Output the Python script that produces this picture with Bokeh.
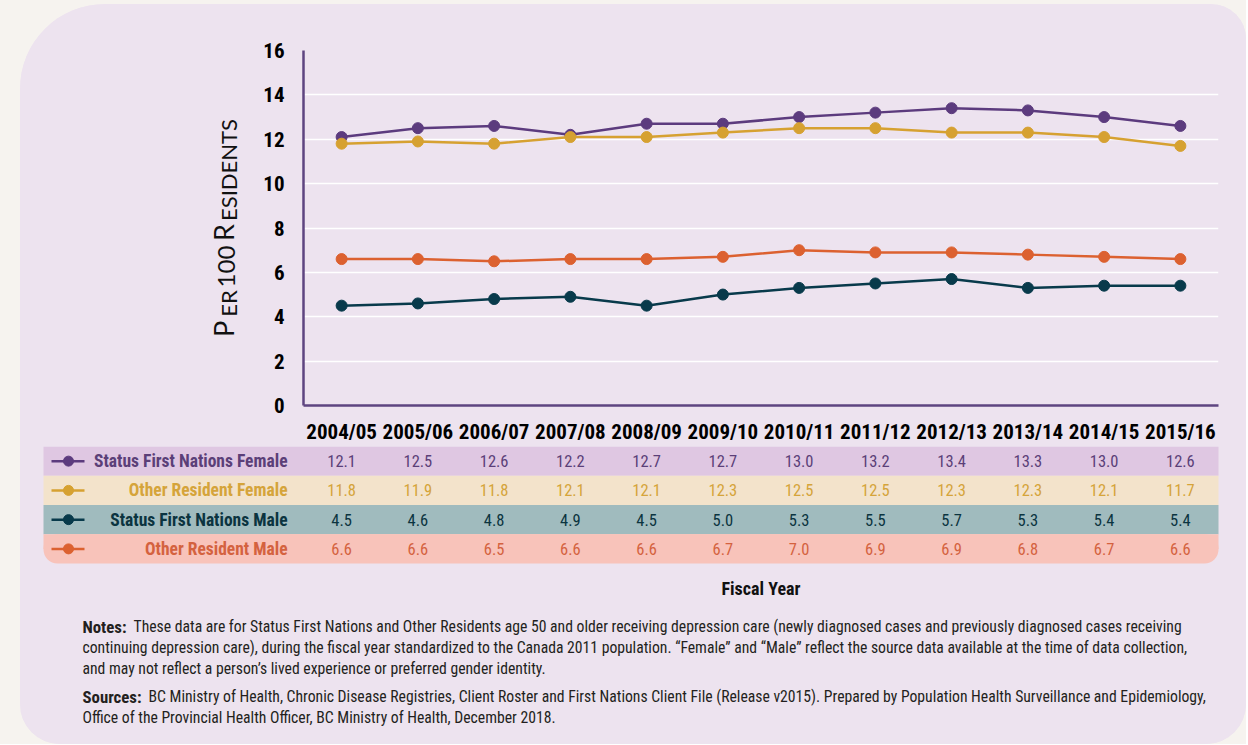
import math
from bokeh.plotting import figure
from bokeh.models import Range1d, FactorRange, FixedTicker, ColumnDataSource
from bokeh.layouts import column, row
from bokeh.embed import file_html
from bokeh.resources import INLINE
from bokeh.core.properties import value

# ---------------- data ----------------
years = ["2004/05", "2005/06", "2006/07", "2007/08", "2008/09", "2009/10",
         "2010/11", "2011/12", "2012/13", "2013/14", "2014/15", "2015/16"]
series_names = ["Status First Nations Female", "Other Resident Female",
                "Status First Nations Male", "Other Resident Male"]
sfn_female = [12.1, 12.5, 12.6, 12.2, 12.7, 12.7, 13.0, 13.2, 13.4, 13.3, 13.0, 12.6]
other_female = [11.8, 11.9, 11.8, 12.1, 12.1, 12.3, 12.5, 12.5, 12.3, 12.3, 12.1, 11.7]
sfn_male = [4.5, 4.6, 4.8, 4.9, 4.5, 5.0, 5.3, 5.5, 5.7, 5.3, 5.4, 5.4]
other_male = [6.6, 6.6, 6.5, 6.6, 6.6, 6.7, 7.0, 6.9, 6.9, 6.8, 6.7, 6.6]
y_ticks = [0, 2, 4, 6, 8, 10, 12, 14, 16]
y_title_pieces = ["P", "ER", "100", "R", "ESIDENTS"]   # "Per 100 Residents" in small caps
x_title = "Fiscal Year"
notes_label = "Notes:"
notes_lines = [
    "These data are for Status First Nations and Other Residents age 50 and older receiving depression care (newly diagnosed cases and previously diagnosed cases receiving",
    "continuing depression care), during the fiscal year standardized to the Canada 2011 population. \u201cFemale\u201d and \u201cMale\u201d reflect the source data available at the time of data collection,",
    "and may not reflect a person\u2019s lived experience or preferred gender identity.",
]
sources_label = "Sources:"
sources_lines = [
    "BC Ministry of Health, Chronic Disease Registries, Client Roster and First Nations Client File (Release v2015). Prepared by Population Health Surveillance and Epidemiology,",
    "Office of the Provincial Health Officer, BC Ministry of Health, December 2018.",
]

# ---------------- styles ----------------
OUTER = "#f6f3ef"
PANEL = "#ede3ef"
SPINE = "#5e4580"
line_colors = ["#5c3b7e", "#d6a131", "#083a4b", "#dc6130"]
text_colors = ["#5b3f78", "#d5a43a", "#0b3440", "#d4623f"]
row_colors = ["#dfc7e2", "#f3e3cb", "#a0bbbe", "#f8c3ba"]
NARROW = "Roboto Condensed, Roboto"
CAPS = "Lato"

W = 1226            # panel width (screen x 20..1246)
YW = 236            # width of the y-title strip
LEFT, RIGHT, TOP, BOTTOM = 47, 28, 46, 39
CHART_LEFT = YW + LEFT
FA_H = 442
FRAME_W = W - CHART_LEFT - RIGHT
STEP = FRAME_W / len(years)


def no_align(fig):
    if "frame_align" in fig.properties():
        fig.frame_align = False
    return fig


def plain(fig):
    fig.xgrid.grid_line_color = None
    fig.ygrid.grid_line_color = None
    return no_align(fig)


# ---------------- y-title strip ----------------
py = figure(width=YW, height=FA_H, x_range=Range1d(0, YW), y_range=Range1d(0, FA_H),
            output_backend="svg", toolbar_location=None, title=None, min_border=0,
            x_axis_location=None, y_axis_location=None,
            background_fill_color=PANEL, border_fill_color=PANEL, outline_line_color=None)
plain(py)
piece_sizes = [27, 22, 24, 27, 22]
piece_centers = [328.5, 303, 266, 232, 169.5]        # screen y of each piece centre
BASE_X = 236                                         # screen x of the common baseline
for txt, size, cy in zip(y_title_pieces, piece_sizes, piece_centers):
    shift = 0.36 * size + 0.67 * (size - 22)
    py.text(x=[BASE_X - shift - 20], y=[FA_H + 4 - cy], text=[txt],
            angle=math.pi / 2, text_align="center", text_baseline="middle",
            text_font=value(CAPS), text_font_size=f"{size}px", text_color="#111111")

# ---------------- chart ----------------
p = figure(width=W - YW, height=FA_H, x_range=FactorRange(*years), y_range=Range1d(0, 16),
           output_backend="svg", toolbar_location=None, title=None,
           min_border_left=LEFT, min_border_right=RIGHT, min_border_top=TOP,
           min_border_bottom=BOTTOM, background_fill_color=PANEL,
           border_fill_color=PANEL, outline_line_color=None)
no_align(p)
p.yaxis.ticker = FixedTicker(ticks=y_ticks)
for ax in (p.xaxis, p.yaxis):
    ax.axis_line_color = SPINE
    ax.axis_line_width = 2.5
    ax.major_tick_line_color = None
    ax.minor_tick_line_color = None
    ax.major_label_text_font = NARROW
    ax.major_label_text_font_style = "bold"
    ax.major_label_text_font_size = "21px"
    ax.major_label_text_color = "#000000"
p.yaxis.major_label_standoff = 13
p.xaxis.major_label_standoff = 8
p.xgrid.grid_line_color = None
p.ygrid.grid_line_color = "white"
p.ygrid.grid_line_width = 1.5

all_series = [sfn_female, other_female, sfn_male, other_male]
for vals, col in zip(all_series, line_colors):
    src = ColumnDataSource(dict(x=years, y=vals))
    p.line("x", "y", source=src, line_color=col, line_width=2.5)
    p.scatter("x", "y", source=src, size=11, fill_color=col, line_color=col)

# ---------------- table ----------------
FRAME_LEFT_SCREEN = 20 + CHART_LEFT
ROW_H = 29.25
FB_H = 120
pb = figure(width=W, height=FB_H,
            x_range=Range1d(-CHART_LEFT / STEP, len(years) + RIGHT / STEP),
            y_range=Range1d(FB_H / ROW_H, 0), output_backend="svg", toolbar_location=None,
            title=None, min_border=0, x_axis_location=None, y_axis_location=None,
            background_fill_color=PANEL, border_fill_color=PANEL, outline_line_color=None)
plain(pb)
row_left = (43 - FRAME_LEFT_SCREEN) / STEP
n = len(series_names)
for r in range(n):
    if r == n - 1:
        pb.quad(left=row_left, right=len(years), top=r, bottom=r + 1,
                fill_color=row_colors[r], line_color=None, border_radius=14)
        pb.quad(left=row_left, right=len(years), top=r, bottom=r + 0.5,
                fill_color=row_colors[r], line_color=None)
    else:
        pb.quad(left=row_left, right=len(years), top=r, bottom=r + 1,
                fill_color=row_colors[r], line_color=None)
for r, (name, vals) in enumerate(zip(series_names, all_series)):
    yc = r + 0.5
    pb.segment(x0=(51 - FRAME_LEFT_SCREEN) / STEP, x1=(84 - FRAME_LEFT_SCREEN) / STEP,
               y0=yc, y1=yc, line_color=line_colors[r], line_width=2.5)
    pb.scatter(x=[(68 - FRAME_LEFT_SCREEN) / STEP], y=[yc], size=10,
               fill_color=line_colors[r], line_color=line_colors[r])
    pb.text(x=[(287 - FRAME_LEFT_SCREEN) / STEP], y=[yc], text=[name], text_align="right",
            text_baseline="middle", text_font=value(NARROW), text_font_style="bold",
            text_font_size="17.5px", text_color=text_colors[r])
    pb.text(x=[i + 0.5 for i in range(len(years))], y=[yc] * len(years),
            text=[f"{v:.1f}" for v in vals], text_align="center",
            text_baseline="middle", text_font=value(NARROW),
            text_font_size="16.5px", text_color=text_colors[r])

# ---------------- notes ----------------
FC_H = 178
pc = figure(width=W, height=FC_H, x_range=Range1d(0, W), y_range=Range1d(FC_H, 0),
            output_backend="svg", toolbar_location=None, title=None, min_border=0,
            x_axis_location=None, y_axis_location=None,
            background_fill_color=PANEL, border_fill_color=PANEL, outline_line_color=None)
plain(pc)
pc.text(x=[CHART_LEFT + FRAME_W / 2], y=[22], text=[x_title], text_align="center",
        text_baseline="middle", text_font=value(NARROW), text_font_style="bold",
        text_font_size="18px", text_color="#111111")
NOTE_COLOR = "#231f20"
note_kw = dict(text_baseline="middle", text_font=value(NARROW), text_color=NOTE_COLOR)
pc.text(x=[62], y=[60], text=[notes_label], text_font_style="bold",
        text_font_size="16.8px", **note_kw)
pc.text(x=[113, 62, 62], y=[60, 81, 102], text=notes_lines, text_font_size="15.7px",
        **note_kw)
pc.text(x=[62], y=[130], text=[sources_label], text_font_style="bold",
        text_font_size="16.8px", **note_kw)
pc.text(x=[128, 62], y=[130, 151], text=sources_lines, text_font_size="15.7px", **note_kw)

panel = column(row(py, p), pb, pc, margin=(4, 0, 0, 20),
               styles={"background-color": PANEL, "border-radius": "85px 35px 40px 40px",
                       "overflow": "hidden"})
root = column(panel, styles={"background-color": OUTER})

open("out.html", "w").write(file_html(root, INLINE))
